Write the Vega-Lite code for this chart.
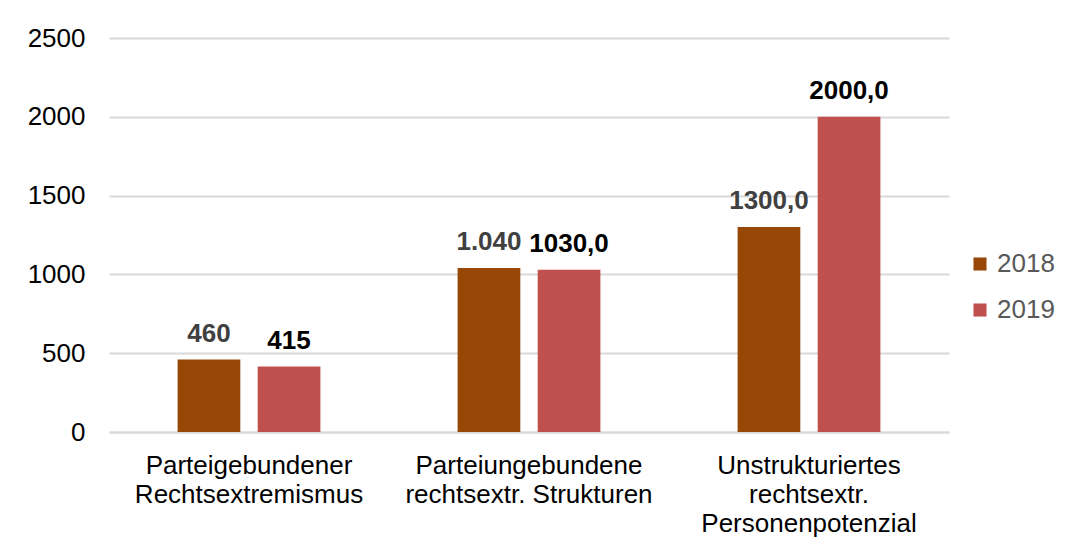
{
  "$schema": "https://vega.github.io/schema/vega-lite/v6.json",
  "width": 840,
  "height": 394,
  "autosize": {"type": "none"},
  "padding": {"left": 109, "top": 38, "right": 132, "bottom": 116},
  "background": "white",
  "config": {
    "font": "Liberation Sans",
    "view": {"stroke": null}
  },
  "data": {
    "values": [
      {"kategorie": "Parteigebundener|Rechtsextremismus", "jahr": "2018", "wert": 460, "label": "460"},
      {"kategorie": "Parteigebundener|Rechtsextremismus", "jahr": "2019", "wert": 415, "label": "415"},
      {"kategorie": "Parteiungebundene|rechtsextr. Strukturen", "jahr": "2018", "wert": 1040, "label": "1.040"},
      {"kategorie": "Parteiungebundene|rechtsextr. Strukturen", "jahr": "2019", "wert": 1030, "label": "1030,0"},
      {"kategorie": "Unstrukturiertes|rechtsextr.|Personenpotenzial", "jahr": "2018", "wert": 1300, "label": "1300,0"},
      {"kategorie": "Unstrukturiertes|rechtsextr.|Personenpotenzial", "jahr": "2019", "wert": 2000, "label": "2000,0"}
    ]
  },
  "encoding": {
    "x": {
      "field": "kategorie",
      "type": "nominal",
      "sort": null,
      "scale": {"paddingInner": 0.49, "paddingOuter": 0.245},
      "axis": {
        "title": null,
        "labelAngle": 0,
        "labelExpr": "split(datum.label, '|')",
        "labelFontSize": 26,
        "labelColor": "#000000",
        "labelLineHeight": 29,
        "labelPadding": 20,
        "labelBaseline": "top",
        "ticks": false,
        "domain": true,
        "domainColor": "#D9D9D9",
        "domainWidth": 2,
        "labelLimit": 400
      }
    },
    "xOffset": {
      "field": "jahr",
      "type": "nominal",
      "scale": {"paddingInner": 0.217, "paddingOuter": 0}
    },
    "y": {
      "field": "wert",
      "type": "quantitative",
      "scale": {"domain": [0, 2500], "nice": false},
      "axis": {
        "title": null,
        "values": [0, 500, 1000, 1500, 2000, 2500],
        "format": "d",
        "labelFontSize": 26,
        "labelColor": "#000000",
        "labelPadding": 24,
        "ticks": false,
        "domain": false,
        "grid": true,
        "gridColor": "#D9D9D9",
        "gridWidth": 2
      }
    }
  },
  "layer": [
    {
      "mark": {"type": "bar"},
      "encoding": {
        "color": {
          "field": "jahr",
          "type": "nominal",
          "scale": {"domain": ["2018", "2019"], "range": ["#974706", "#C0504D"]},
          "legend": {
            "title": null,
            "orient": "none",
            "legendX": 858,
            "legendY": 213,
            "symbolType": "square",
            "symbolSize": 170,
            "symbolStrokeWidth": 0,
            "labelFontSize": 26,
            "labelColor": "#595959",
            "labelOffset": 4,
            "rowPadding": 20,
            "padding": 0
          }
        }
      }
    },
    {
      "mark": {"type": "text", "fontSize": 26, "fontWeight": "bold", "baseline": "alphabetic", "dy": -18},
      "encoding": {
        "text": {"field": "label"},
        "fill": {
          "field": "jahr",
          "type": "nominal",
          "scale": {"domain": ["2018", "2019"], "range": ["#404040", "#000000"]},
          "legend": null
        }
      }
    }
  ],
  "resolve": {"scale": {"fill": "independent"}}
}
